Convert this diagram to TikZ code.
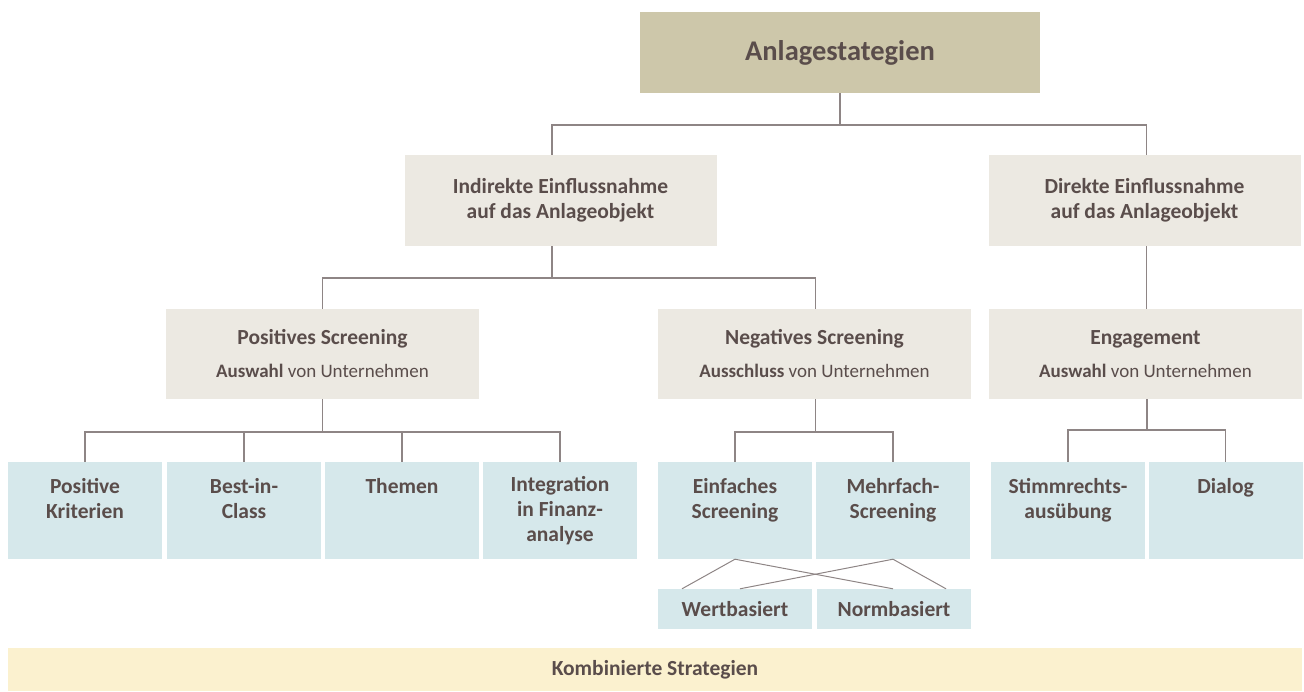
\documentclass[tikz,border=0pt]{standalone}
\usepackage{fontspec}
\setmainfont{Carlito}
\definecolor{txt}{HTML}{5A4D4B}
\definecolor{ln}{HTML}{8E8585}
\definecolor{topfill}{HTML}{CDC7AA}
\definecolor{midfill}{HTML}{ECE9E2}
\definecolor{leaffill}{HTML}{D6E8EB}
\definecolor{botfill}{HTML}{FBF1CF}
\tikzset{
  x=1pt,y=-1pt,
  box/.style={fill=#1,draw=none,inner sep=0pt,align=center,text=txt,
    font=\fontsize{21.5pt}{25pt}\selectfont\bfseries},
  topbox/.style={box=topfill,minimum width=400pt,minimum height=81pt,
    font=\fontsize{28.5pt}{32pt}\selectfont\bfseries},
  midbox/.style={box=midfill,minimum width=312pt,minimum height=91pt},
  lvlbox/.style={box=midfill,minimum width=313pt,minimum height=90pt},
  leafbox/.style={box=leaffill,minimum width=154pt,minimum height=97pt},
  smallbox/.style={box=leaffill,minimum width=154pt,minimum height=40pt},
  botbox/.style={box=botfill,minimum width=1294pt,minimum height=43pt},
  conn/.style={draw=ln,line width=1.3pt},
}
\newcommand{\subl}[2]{\\[8pt]{\fontsize{19pt}{23pt}\selectfont\textbf{#1}\mdseries\ #2}}
\begin{document}
\begin{tikzpicture}
\useasboundingbox (0,0) rectangle (1304,691);
% top
\node[topbox] (top) at (840,52.5) {Anlagestategien};
% level 2
\node[midbox] (ind) at (560.5,200.5) {Indirekte Einflussnahme\\auf das Anlageobjekt};
\node[midbox] (dir) at (1144.5,200.5) {Direkte Einflussnahme\\auf das Anlageobjekt};
% level 3
\node[lvlbox] (pos) at (322.5,354) {Positives Screening\subl{Auswahl}{von Unternehmen}};
\node[lvlbox] (neg) at (814.5,354) {Negatives Screening\subl{Ausschluss}{von Unternehmen}};
\node[lvlbox] (eng) at (1145.5,354) {Engagement\subl{Auswahl}{von Unternehmen}};
% leaves
\node[leafbox] (pk) at (85,510.5) {Positive\\Kriterien\\\mbox{}};
\node[leafbox] (bic) at (244,510.5) {Best-in-\\Class\\\mbox{}};
\node[leafbox] (them) at (402,510.5) {Themen\\\mbox{}\\\mbox{}};
\node[leafbox] (integ) at (560,510.5) {Integration\\in Finanz-\\analyse};
\node[leafbox] (einf) at (735,510.5) {Einfaches\\Screening\\\mbox{}};
\node[leafbox] (mehr) at (893,510.5) {Mehrfach-\\Screening\\\mbox{}};
\node[leafbox] (stimm) at (1068,510.5) {Stimmrechts-\\ausübung\\\mbox{}};
\node[leafbox] (dial) at (1225.5,510.5) {Dialog\\\mbox{}\\\mbox{}};
% small
\node[smallbox] (wert) at (735,609) {Wertbasiert};
\node[smallbox] (norm) at (894,609) {Normbasiert};
% bottom
\node[botbox] (kombi) at (655,669.5) {Kombinierte Strategien};
% connectors
\coordinate (j1) at (840,125);
\draw[conn] (top.south) -- (j1);
\draw[conn] ([xshift=-8.5pt]ind.north) |- (j1) -| ([xshift=2pt]dir.north);
\draw[conn] ([xshift=2pt]dir.south) -- ([xshift=1pt]eng.north);
\coordinate (j2) at (552,278);
\draw[conn] ([xshift=-8.5pt]ind.south) -- (j2);
\draw[conn] (pos.north) |- (j2) -| ([xshift=1pt]neg.north);
\coordinate (j3) at (322.5,432);
\draw[conn] (pos.south) -- (j3);
\draw[conn] (pk.north) |- (integ.north |- j3) -- (integ.north);
\draw[conn] (bic.north) -- (bic.north |- j3);
\draw[conn] (them.north) -- (them.north |- j3);
\coordinate (j4) at (815.5,432);
\draw[conn] ([xshift=1pt]neg.south) -- (j4);
\draw[conn] (einf.north) |- (j4) -| (mehr.north);
\coordinate (j5) at (1147,430);
\draw[conn] ([xshift=1.5pt]eng.south) -- (j5);
\draw[conn] (stimm.north) |- (j5) -| (dial.north);
% crossing lines
\draw[draw=ln,line width=1pt] ([xshift=-53pt]wert.north) -- (einf.south) -- ([xshift=-1pt]norm.north);
\draw[draw=ln,line width=1pt] ([xshift=5pt]wert.north) -- (mehr.south) -- ([xshift=52pt]norm.north);
\end{tikzpicture}
\end{document}
